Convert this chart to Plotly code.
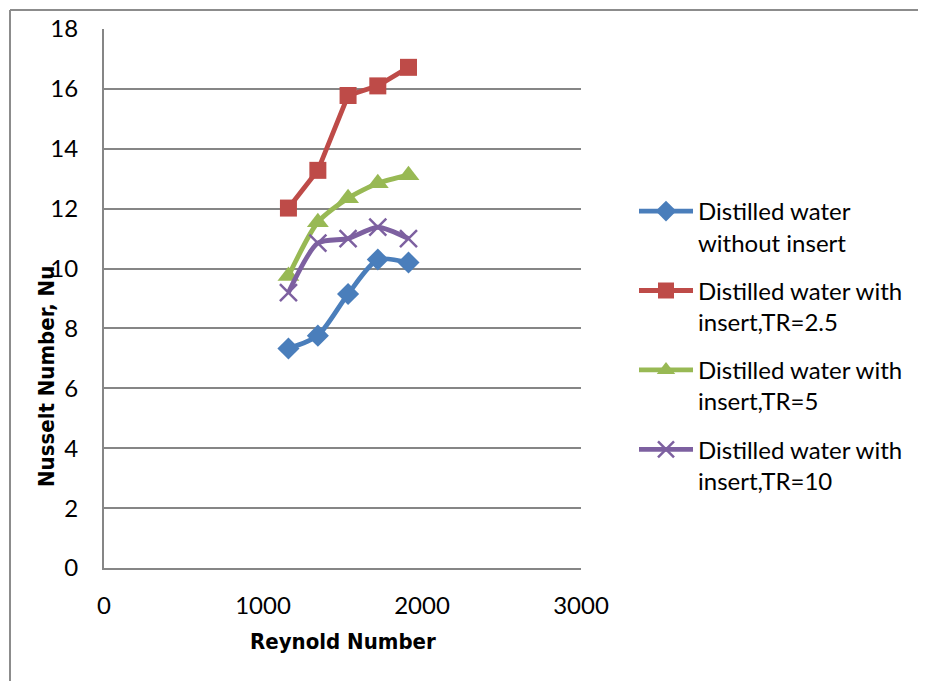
import plotly.graph_objects as go

reynolds = [1160, 1345, 1535, 1722, 1915]
nu_without = [7.33, 7.76, 9.15, 10.3, 10.2]
nu_tr25 = [12.02, 13.28, 15.78, 16.1, 16.72]
nu_tr5 = [9.75, 11.55, 12.35, 12.85, 13.12]
nu_tr10 = [9.2, 10.85, 11.0, 11.38, 11.0]

names = [
    "Distilled water<br>without insert",
    "Distilled water with<br>insert,TR=2.5",
    "Distilled water with<br>insert,TR=5",
    "Distilled water with<br>insert,TR=10",
]
colors = ["#4A7EBB", "#BE4B48", "#98B954", "#7D60A0"]

OFF = 8  # page body margin
W, H = 926 - OFF, 681 - OFF
# plot area in page pixels
L, R, T, B = 104, 581, 29, 568

def px(xp):
    return (xp - L) / (R - L)

def py(yp):
    return (B - yp) / (B - T)

fig = go.Figure()
series = [
    (nu_without, dict(symbol="diamond", size=17, color=colors[0]), "spline"),
    (nu_tr25, dict(symbol="square", size=17, color=colors[1]), "linear"),
    (nu_tr5, dict(symbol="triangle-up", size=19, color=colors[2]), "spline"),
    (nu_tr10, dict(symbol="x-thin", size=17, color=colors[3],
                   line=dict(color=colors[3], width=2.5)), "spline"),
]
for i, (vals, mk, shape) in enumerate(series):
    fig.add_trace(go.Scatter(
        x=reynolds, y=vals, name=names[i], mode="lines+markers",
        line=dict(color=colors[i], width=4.8, shape=shape, smoothing=0.7),
        marker=mk, legendgroup=f"g{i}",
    ))

title_font = dict(family="DejaVu Sans Condensed, Roboto", size=22, color="#000000")
tick_font = dict(family="Lato", size=24, color="#000000")

fig.update_layout(
    width=W, height=H,
    margin=dict(l=L - OFF, r=W - (R - OFF), t=T - OFF, b=H - (B - OFF), pad=0, autoexpand=False),
    paper_bgcolor="white", plot_bgcolor="white",
    showlegend=True,
    legend=dict(
        x=px(634), y=py(189), xanchor="left", yanchor="top",
        font=dict(family="Lato", size=24, color="#000000"),
        valign="top", tracegroupgap=14, itemwidth=54,
        bgcolor="rgba(0,0,0,0)",
    ),
    xaxis=dict(
        range=[0, 3000], dtick=1000, tick0=0, showgrid=False,
        showline=True, linecolor="#868686", linewidth=2,
        zeroline=False, ticks="", ticklabelstandoff=15, automargin=False,
        tickfont=tick_font,
    ),
    yaxis=dict(
        range=[0, 18], dtick=2, tick0=0, showgrid=True,
        gridcolor="#868686", gridwidth=2,
        showline=True, linecolor="#868686", linewidth=2,
        zeroline=False, ticks="", ticklabelstandoff=19, automargin=False,
        tickfont=tick_font,
    ),
    annotations=[
        dict(text="<b>Reynold Number</b>", x=px(343), y=py(641), xref="paper", yref="paper",
             showarrow=False, xanchor="center", yanchor="middle", font=title_font),
        dict(text="<b>Nusselt Number, Nu</b>", x=px(47), y=py(377), xref="paper", yref="paper",
             showarrow=False, xanchor="center", yanchor="middle", textangle=-90,
             font=title_font),
    ],
    shapes=[
        dict(type="line", xref="paper", yref="paper", x0=px(10), x1=px(940),
             y0=py(10), y1=py(10), line=dict(color="#8C8C8C", width=2)),
        dict(type="line", xref="paper", yref="paper", x0=px(10), x1=px(10),
             y0=py(10), y1=py(700), line=dict(color="#8C8C8C", width=2)),
    ],
)

fig.write_html("out.html")
